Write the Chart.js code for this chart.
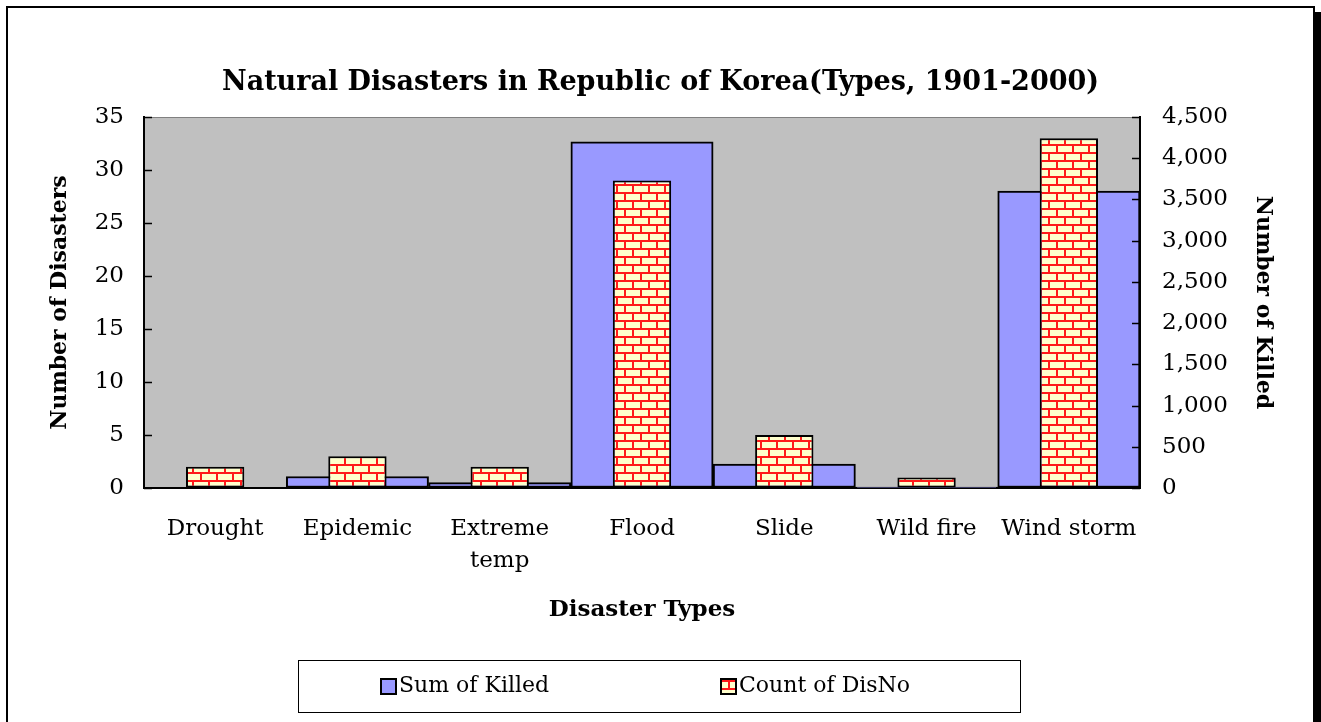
<!DOCTYPE html>
<html>
<head>
<meta charset="utf-8">
<title>Natural Disasters in Republic of Korea</title>
<script src="https://cdn.jsdelivr.net/npm/chart.js"></script>
<style>
    html, body { margin: 0; padding: 0; background: #fff; }
    .chart-wrap { position: relative; width: 1321px; height: 722px; }
</style>
</head>
<body>
<div class="chart-wrap"><canvas id="disasterChart"></canvas></div>

<script>
    // Values
    const disasterTypes = ['Drought', 'Epidemic', ['Extreme', 'temp'], 'Flood', 'Slide', 'Wild fire', 'Wind storm'];
    const sumOfKilled = [0, 140, 65, 4200, 290, 12, 3600];
    const countOfDisNo = [2, 3, 2, 29, 5, 1, 33];
    const countAxisMax = 35;
    const killedAxisMax = 4500;

    const canvas = document.getElementById('disasterChart');
    const mainCtx = canvas.getContext('2d');

    // yellow bricks with red mortar, like the Excel fill
    function makeBrickPattern() {
        const c = document.createElement('canvas');
        c.width = 16;
        c.height = 16;
        const g = c.getContext('2d');
        g.fillStyle = '#ffffcc';
        g.fillRect(0, 0, 16, 16);
        g.fillStyle = '#ff1a1a';
        g.fillRect(0, 0, 16, 2);
        g.fillRect(0, 8, 16, 2);
        g.fillRect(0, 2, 2, 6);
        g.fillRect(8, 10, 2, 6);
        return mainCtx.createPattern(c, 'repeat');
    }
    const brick = makeBrickPattern();

    const serif = '"DejaVu Serif", "Liberation Serif", serif';
    Chart.defaults.font.family = serif;
    Chart.defaults.color = '#000';

    // plot background, outer frame, inward tick marks and the boxed legend
    const frame = {
        id: 'frame',
        beforeDraw(chart) {
            const { ctx, chartArea: a } = chart;
            ctx.save();
            ctx.fillStyle = '#fff';
            ctx.fillRect(0, 0, chart.width, chart.height);
            ctx.fillStyle = '#000';
            ctx.fillRect(1314, 12, 7, chart.height);
            ctx.strokeStyle = '#000';
            ctx.lineWidth = 2;
            ctx.strokeRect(7, 7, 1307, chart.height);
            ctx.fillStyle = '#c0c0c0';
            ctx.fillRect(a.left, a.top, a.width, a.height);
            ctx.strokeStyle = '#808080';
            ctx.lineWidth = 1;
            ctx.strokeRect(a.left + 0.5, a.top + 0.5, a.width - 1, a.height);
            ctx.restore();
        },
        afterDatasetsDraw(chart) {
            const { ctx, chartArea: a } = chart;
            ctx.save();
            ctx.strokeStyle = '#000';
            ctx.lineWidth = 1.5;
            ['yCount', 'yKilled'].forEach(id => {
                const s = chart.scales[id];
                s.ticks.forEach(t => {
                    const y = Math.round(s.getPixelForValue(t.value)) + 0.5;
                    ctx.beginPath();
                    if (id === 'yCount') {
                        ctx.moveTo(a.left, y);
                        ctx.lineTo(a.left + 8, y);
                    } else {
                        ctx.moveTo(a.right - 8, y);
                        ctx.lineTo(a.right, y);
                    }
                    ctx.stroke();
                });
            });
            ctx.restore();
        },
        afterDraw(chart) {
            const { ctx } = chart;
            const box = { left: 298, top: 660, width: 722, height: 52 };
            const starts = [381, 721];
            const midY = box.top + box.height / 2;
            ctx.save();
            ctx.fillStyle = '#fff';
            ctx.fillRect(box.left, box.top, box.width, box.height);
            ctx.strokeStyle = '#000';
            ctx.lineWidth = 1;
            ctx.strokeRect(box.left + 0.5, box.top + 0.5, box.width, box.height);
            ctx.font = '22px ' + serif;
            ctx.textBaseline = 'middle';
            ctx.textAlign = 'left';
            const items = [chart.data.datasets[0], chart.data.datasets[1]];
            items.forEach((ds, i) => {
                const x = starts[i];
                ctx.fillStyle = ds.backgroundColor;
                ctx.fillRect(x, midY - 7, 15, 15);
                ctx.strokeStyle = '#000';
                ctx.lineWidth = 2;
                ctx.strokeRect(x, midY - 7, 15, 15);
                ctx.fillStyle = '#000';
                ctx.fillText(ds.label, x + 18, midY);
            });
            ctx.restore();
        }
    };

    new Chart(canvas, {
        type: 'bar',
        data: {
            labels: disasterTypes,
            datasets: [
                {
                    label: 'Sum of Killed',
                    data: sumOfKilled,
                    yAxisID: 'yKilled',
                    backgroundColor: '#9999ff',
                    borderColor: '#000',
                    borderWidth: 2,
                    borderSkipped: false,
                    grouped: false,
                    categoryPercentage: 1,
                    barPercentage: 1,
                    order: 2
                },
                {
                    label: 'Count of DisNo',
                    data: countOfDisNo,
                    yAxisID: 'yCount',
                    backgroundColor: brick,
                    borderColor: '#000',
                    borderWidth: 2,
                    borderSkipped: false,
                    grouped: false,
                    categoryPercentage: 1,
                    barPercentage: 0.41,
                    order: 1
                }
            ]
        },
        options: {
            responsive: true,
            maintainAspectRatio: false,
            animation: false,
            layout: { padding: 0 },
            plugins: {
                legend: { display: false },
                tooltip: { enabled: false },
                title: {
                    display: true,
                    text: 'Natural Disasters in Republic of Korea(Types, 1901-2000)',
                    font: { size: 27, weight: 'bold', lineHeight: 1.2 },
                    padding: { top: 67, bottom: 17.6 },
                    color: '#000'
                }
            },
            scales: {
                x: {
                    z: 1,
                    grid: { display: true, drawOnChartArea: false, drawTicks: false },
                    border: { display: true, color: '#000', width: 2 },
                    ticks: {
                        font: { size: 23, lineHeight: 1.4 },
                        padding: 25,
                        maxRotation: 0,
                        autoSkip: false
                    },
                    title: {
                        display: true,
                        text: 'Disaster Types',
                        font: { size: 23, weight: 'bold', lineHeight: 1.2 },
                        padding: { top: 0, bottom: 98 }
                    },
                    afterFit: s => { s.height = 234; }
                },
                yCount: {
                    type: 'linear',
                    position: 'left',
                    z: 1,
                    min: 0,
                    max: countAxisMax,
                    ticks: { stepSize: 5, font: { size: 23 }, padding: 20 },
                    grid: { display: true, drawOnChartArea: false, drawTicks: false },
                    border: { display: true, color: '#000', width: 2 },
                    title: {
                        display: true,
                        text: 'Number of Disasters',
                        font: { size: 22, weight: 'bold', lineHeight: 1.2 },
                        padding: { top: 47, bottom: 47 }
                    },
                    afterFit: s => { s.width = 144; }
                },
                yKilled: {
                    type: 'linear',
                    position: 'right',
                    z: 1,
                    min: 0,
                    max: killedAxisMax,
                    ticks: { stepSize: 500, font: { size: 23 }, padding: 22 },
                    grid: { display: true, drawOnChartArea: false, drawTicks: false },
                    border: { display: true, color: '#000', width: 2 },
                    title: {
                        display: true,
                        text: 'Number of Killed',
                        font: { size: 22, weight: 'bold', lineHeight: 1.2 },
                        padding: { top: 45, bottom: 45 }
                    },
                    afterFit: s => { s.width = 181; }
                }
            }
        },
        plugins: [frame]
    });
</script>
</body>
</html>
